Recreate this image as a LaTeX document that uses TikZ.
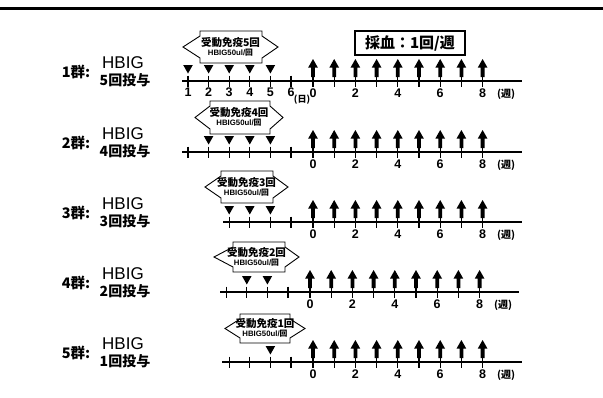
\documentclass[tikz,border=0pt]{standalone}
\usepackage{fontspec}
\setmainfont{Liberation Sans}
\newfontfamily\jp{Noto Sans CJK JP}
\begin{document}
\begin{tikzpicture}[x=1pt,y=-1pt,
  axisln/.style={line width=1.7pt},
  tickln/.style={line width=1.3pt},
  boxln/.style={line width=0.9pt, line join=miter},
  num/.style={font=\bfseries\fontsize{12.5}{12.5}\selectfont, inner sep=0pt, anchor=base},
  unit/.style={font=\jp\bfseries\fontsize{10}{10}\selectfont, inner sep=0pt, anchor=base},
  grp/.style={font=\jp\bfseries\fontsize{14.5}{15}\selectfont, inner sep=0pt},
  hbig/.style={font=\fontsize{17}{17}\selectfont, inner sep=0pt},
  times/.style={font=\jp\bfseries\fontsize{14}{14}\selectfont, inner sep=0pt},
  bt/.style={font=\jp\bfseries\fontsize{10.5}{10.5}\selectfont, inner sep=0pt},
  bh/.style={font=\bfseries\fontsize{7.8}{8}\selectfont, inner sep=0pt},
  sample/.style={draw, line width=1.3pt, font=\jp\bfseries\fontsize{15}{16}\selectfont, minimum width=110pt, minimum height=24pt, inner sep=0pt}
]
\useasboundingbox (0,0) rectangle (603,397);
% top rule
\coordinate (tl) at (0,8);
\coordinate (tr) at (603,8);
\draw[line width=3pt] (tl) -- (tr);

% sampling box
\node[sample] (samp) at (410,43) {採血：1回/週};

% timelines
\foreach \g/\gy/\sh/\xs/\dfirst/\tfirst/\n in {1/81/0/182/1/1/5, 2/152/0/182/1/2/4, 3/222/0/223/3/3/3, 4/292/-3/223/3/4/2, 5/362/0/222/3/5/1}{
  \coordinate (s\g) at ({\xs+\sh},\gy);
  \coordinate (e\g) at ({522+\sh},\gy);
  \draw[axisln] (s\g) -- (e\g);
  % day ticks
  \foreach \d in {\dfirst,...,6}{
    \draw[tickln] ({188+(\d-1)*20.6+\sh},{\gy-5.5}) -- ++(0,11);
  }
  % injection triangles
  \foreach \d in {\tfirst,...,5}{
    \fill ({188+(\d-1)*20.6+\sh-4.8},{\gy-16}) -- ++(9.6,0) -- ++(-4.8,8.5) -- cycle;
  }
  % week ticks and sampling arrows
  \foreach \k in {0,...,8}{
    \pgfmathsetmacro\wx{313+21.2*\k+\sh}
    \draw[tickln] (\wx,{\gy-5.5}) -- ++(0,11);
    \fill ({\wx-1.9},{\gy-4}) -- ({\wx-1.9},{\gy-13.5}) -- ({\wx-4.8},{\gy-13.5}) -- (\wx,{\gy-22})
      -- ({\wx+4.8},{\gy-13.5}) -- ({\wx+1.9},{\gy-13.5}) -- ({\wx+1.9},{\gy-4}) -- cycle;
  }
  \foreach \k in {0,2,4,6,8}{
    \node[num] (w\g-\k) at ({313+21.2*\k+\sh},{\gy+16.5}) {\k};
  }
  \node[unit] (wu\g) at ({506+\sh},{\gy+16.5}) {(週)};
  % group labels
  \node[grp] (g\g) at (76,{\gy-9}) {\g 群:};
  \node[hbig] (h\g) at (123,{\gy-18}) {HBIG};
  \node[times] (t\g) at (125,{\gy-0.5}) {\n 回投与};
}

% day labels (group 1)
\foreach \d in {1,...,6}{
  \node[num] (d\d) at ({188+(\d-1)*20.6},96.5) {\d};
}
\node[unit, font=\jp\bfseries\fontsize{9}{9}\selectfont] (du) at (302,102) {(日)};

% passive immunisation boxes
\foreach \g/\n/\xl/\xa/\xb/\xr/\yt/\yb in {1/5/183/200/262/278/31/63, 2/4/195/210/270/283/101/134, 3/3/205/221/273/288/171/203, 4/2/214/233/285/299/242/272, 5/1/225/240/290/305/314/343}{
  \draw[boxln] (\xl,{(\yt+\yb)/2}) -- (\xa,{\yt+5}) -- (\xa,\yt) -- (\xb,\yt) -- (\xb,{\yt+5})
    -- (\xr,{(\yt+\yb)/2}) -- (\xb,{\yb-5}) -- (\xb,\yb) -- (\xa,\yb) -- (\xa,{\yb-5}) -- cycle;
  \node[bt] (bt\g) at ({(\xl+\xr)/2},{(\yt+\yb)/2-4.5}) {受動免疫\n 回};
  \node[bh] (bh\g) at ({(\xl+\xr)/2},{(\yt+\yb)/2+5.5}) {HBIG50ul/{\jp 回}};
}
\end{tikzpicture}
\end{document}
